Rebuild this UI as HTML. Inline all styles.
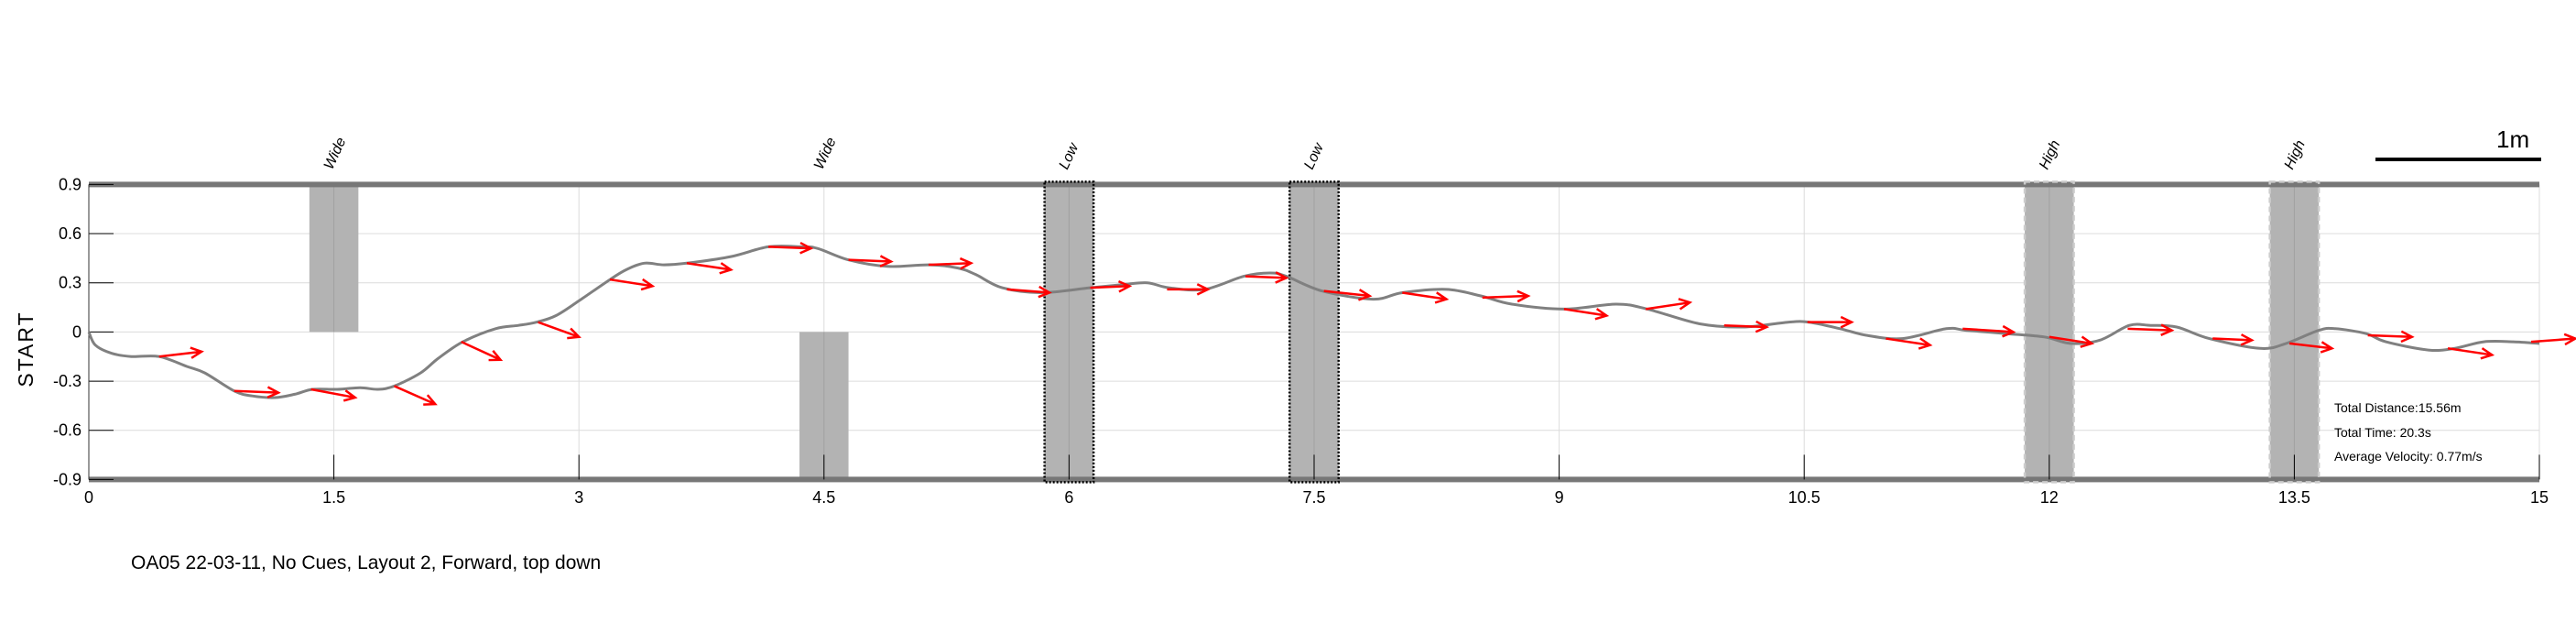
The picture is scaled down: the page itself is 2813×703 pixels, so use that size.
<!DOCTYPE html>
<html><head><meta charset="utf-8"><style>
html,body{margin:0;padding:0;background:#fff;}
svg{display:block;font-family:"Liberation Sans Narrow","Liberation Sans",sans-serif;}
</style></head><body>
<svg id="chart" width="2813" height="703" viewBox="0 0 2813 703" xmlns="http://www.w3.org/2000/svg">
<g id="grid"></g>
<g id="obstacles"></g>
<g id="axes"></g>
<g id="path"></g>
<g id="arrows"></g>
<g id="labels"></g>
<text x="0" y="0" transform="translate(36,381) rotate(-90)" text-anchor="middle" font-size="23" font-family="Liberation Sans, sans-serif" letter-spacing="2">START</text>
<line x1="2594" y1="174" x2="2775" y2="174" stroke="#000" stroke-width="4"/>
<text x="2726" y="161" font-size="26">1m</text>
<text x="2549" y="450" font-size="14">Total Distance:15.56m</text>
<text x="2549" y="477" font-size="14">Total Time: 20.3s</text>
<text x="2549" y="503" font-size="14">Average Velocity: 0.77m/s</text>
<text x="143" y="621" font-size="21">OA05 22-03-11, No Cues, Layout 2, Forward, top down</text>
</svg>
<script>
const xTicks=[0,1.5,3,4.5,6,7.5,9,10.5,12,13.5,15];
const xTickLabels=["0","1.5","3","4.5","6","7.5","9","10.5","12","13.5","15"];
const yTicks=[0.9,0.6,0.3,0,-0.3,-0.6,-0.9];
const yTickLabels=["0.9","0.6","0.3","0","-0.3","-0.6","-0.9"];
const obstacleCenters=[1.5,4.5,6,7.5,12,13.5];
const obstacleTypes=["Wide","Wide","Low","Low","High","High"];
const obstacleBottom=[0,-0.9,-0.9,-0.9,-0.9,-0.9];
const obstacleTop=[0.9,0,0.9,0.9,0.9,0.9];
const pathX=[0,0.04,0.14,0.26,0.43,0.60,0.71,0.89,1.00,1.14,1.26,1.37,1.52,1.66,1.77,1.87,2.03,2.14,2.29,2.49,2.63,2.74,2.86,3.00,3.19,3.29,3.40,3.52,3.66,3.93,4.16,4.36,4.46,4.65,4.89,5.14,5.32,5.43,5.59,5.83,6.13,6.34,6.48,6.61,6.83,7.07,7.23,7.33,7.55,7.86,8.04,8.31,8.52,8.71,9.03,9.35,9.54,9.86,10.13,10.40,10.53,10.72,10.88,11.10,11.37,11.49,11.74,11.97,12.13,12.31,12.49,12.62,12.78,12.98,13.29,13.45,13.65,13.75,13.94,14.06,14.32,14.48,14.66,14.84,15.0];
const pathY=[0,-0.08,-0.13,-0.15,-0.15,-0.21,-0.25,-0.36,-0.39,-0.40,-0.38,-0.35,-0.35,-0.34,-0.35,-0.33,-0.25,-0.16,-0.06,0.02,0.04,0.06,0.10,0.19,0.32,0.38,0.42,0.41,0.42,0.46,0.52,0.52,0.51,0.44,0.40,0.41,0.39,0.35,0.27,0.24,0.27,0.29,0.30,0.27,0.26,0.34,0.36,0.34,0.25,0.20,0.24,0.26,0.22,0.17,0.14,0.17,0.14,0.05,0.03,0.06,0.06,0.02,-0.02,-0.04,0.02,0.01,-0.01,-0.03,-0.07,-0.05,0.04,0.04,0.03,-0.04,-0.10,-0.07,0.01,0.02,-0.01,-0.06,-0.11,-0.10,-0.06,-0.06,-0.07];
const arrowX0=[0.43,0.89,1.36,1.87,2.28,2.75,3.19,3.66,4.16,4.65,5.14,5.62,6.13,6.60,7.08,7.56,8.04,8.53,9.03,9.53,10.01,10.52,11.00,11.47,12.00,12.48,13.00,13.47,13.95,14.44,14.95];
const arrowY0=[-0.15,-0.36,-0.35,-0.33,-0.06,0.06,0.32,0.42,0.52,0.44,0.41,0.26,0.27,0.26,0.34,0.25,0.24,0.21,0.14,0.14,0.04,0.06,-0.04,0.02,-0.03,0.02,-0.04,-0.07,-0.02,-0.10,-0.06];
const arrowX1=[0.69,1.16,1.63,2.12,2.52,3.00,3.45,3.93,4.42,4.91,5.40,5.88,6.37,6.85,7.33,7.84,8.31,8.81,9.29,9.80,10.27,10.79,11.27,11.78,12.26,12.75,13.24,13.73,14.22,14.71,15.22];
const arrowY1=[-0.12,-0.37,-0.40,-0.44,-0.17,-0.03,0.28,0.38,0.51,0.43,0.42,0.24,0.28,0.26,0.33,0.22,0.20,0.22,0.10,0.18,0.03,0.06,-0.08,0.00,-0.07,0.01,-0.05,-0.10,-0.03,-0.14,-0.04];

const NS="http://www.w3.org/2000/svg";
const X=u=>97+u*178.4, Y=v=>362.4-v*178.9;
function mk(tag,attrs,parent){const e=document.createElementNS(NS,tag);for(const k in attrs)e.setAttribute(k,attrs[k]);parent.appendChild(e);return e;}
const grid=document.getElementById('grid'),obs=document.getElementById('obstacles'),axes=document.getElementById('axes'),
 pg=document.getElementById('path'),ag=document.getElementById('arrows'),lg=document.getElementById('labels');

xTicks.forEach((t,i)=>{
  if(i>0){const g=mk('line',{x1:X(t),x2:X(t),y1:Y(0.9),y2:Y(-0.9),stroke:'#dcdcdc','stroke-width':1},grid);
  }
  const tk=mk('line',{x1:X(t),x2:X(t),y1:Y(-0.9),y2:Y(-0.9)-27,stroke:'#000','stroke-width':1},axes);
  
  const tl=mk('text',{x:X(t),y:549,'text-anchor':'middle','font-size':18},axes);tl.textContent=xTickLabels[i];
  
});
yTicks.forEach((t,i)=>{
  const g=mk('line',{x1:X(0),x2:X(15),y1:Y(t),y2:Y(t),stroke:'#dcdcdc','stroke-width':1},grid);
  
  const tk=mk('line',{x1:X(0),x2:X(0)+27,y1:Y(t),y2:Y(t),stroke:'#000','stroke-width':1},axes);
  
  const tl=mk('text',{x:89,y:Y(t)+6,'text-anchor':'end','font-size':18},axes);tl.textContent=yTickLabels[i];
  
});
const ax=mk('line',{x1:X(0),x2:X(0),y1:Y(0.9),y2:Y(-0.9),stroke:'#333','stroke-width':1},axes);


obstacleCenters.forEach((c,i)=>{
  const x0=X(c-0.15),x1=X(c+0.15),y0=Y(obstacleTop[i]),y1=Y(obstacleBottom[i]);
  const r=mk('rect',{x:x0,y:y0,width:x1-x0,height:y1-y0,fill:'#b3b3b3'},obs);
  
  const cl=mk('line',{x1:X(c),x2:X(c),y1:y0,y2:y1,stroke:'#a0a0a0','stroke-width':1},obs);
  
  const t=mk('text',{x:0,y:0,transform:`translate(${X(c)-2},186) rotate(-65)`,'font-size':16,'font-style':'italic'},lg);
  t.textContent=obstacleTypes[i];
  
});
[0.9,-0.9].forEach(v=>{
  const b=mk('rect',{x:X(0),y:Y(v)-3,width:X(15)-X(0),height:6,fill:'#777'},obs);
  
});
obstacleCenters.forEach((c,i)=>{
  const x0=X(c-0.15),x1=X(c+0.15),y0=Y(0.9)-3,y1=Y(-0.9)+3;
  if(obstacleTypes[i]==='Low'){
    const b=mk('rect',{x:x0,y:y0,width:x1-x0,height:y1-y0,fill:'none',stroke:'#000','stroke-width':2.5,'stroke-dasharray':'2 2'},obs);
    
  } else if(obstacleTypes[i]==='High'){
    const b=mk('rect',{x:x0,y:y0,width:x1-x0,height:y1-y0,fill:'none',stroke:'#ccc','stroke-width':2.5,'stroke-dasharray':'6 4'},obs);
    
  }
});

const pts=pathX.map((x,i)=>[X(x),Y(pathY[i])]);
let d='M'+pts[0][0].toFixed(1)+','+pts[0][1].toFixed(1);
for(let i=0;i<pts.length-1;i++){
  const p0=pts[Math.max(i-1,0)],p1=pts[i],p2=pts[i+1],p3=pts[Math.min(i+2,pts.length-1)];
  const c1=[p1[0]+(p2[0]-p0[0])/6,p1[1]+(p2[1]-p0[1])/6],c2=[p2[0]-(p3[0]-p1[0])/6,p2[1]-(p3[1]-p1[1])/6];
  d+=`C${c1[0].toFixed(1)},${c1[1].toFixed(1)} ${c2[0].toFixed(1)},${c2[1].toFixed(1)} ${p2[0].toFixed(1)},${p2[1].toFixed(1)}`;
}
const p=mk('path',{d:d,fill:'none',stroke:'#808080','stroke-width':3,'stroke-linejoin':'round'},pg);


arrowX0.forEach((x,i)=>{
  const sx=X(x),sy=Y(arrowY0[i]),ex=X(arrowX1[i]),ey=Y(arrowY1[i]);
  const a=Math.atan2(ey-sy,ex-sx),h=13,w=0.45;
  const p1=[ex-h*Math.cos(a-w),ey-h*Math.sin(a-w)],p2=[ex-h*Math.cos(a+w),ey-h*Math.sin(a+w)];
  const ar=mk('path',{d:`M${sx},${sy}L${ex},${ey}M${p1[0]},${p1[1]}L${ex},${ey}L${p2[0]},${p2[1]}`,fill:'none',stroke:'#ff0000','stroke-width':2.5},ag);
  
});
</script>
</body></html>
